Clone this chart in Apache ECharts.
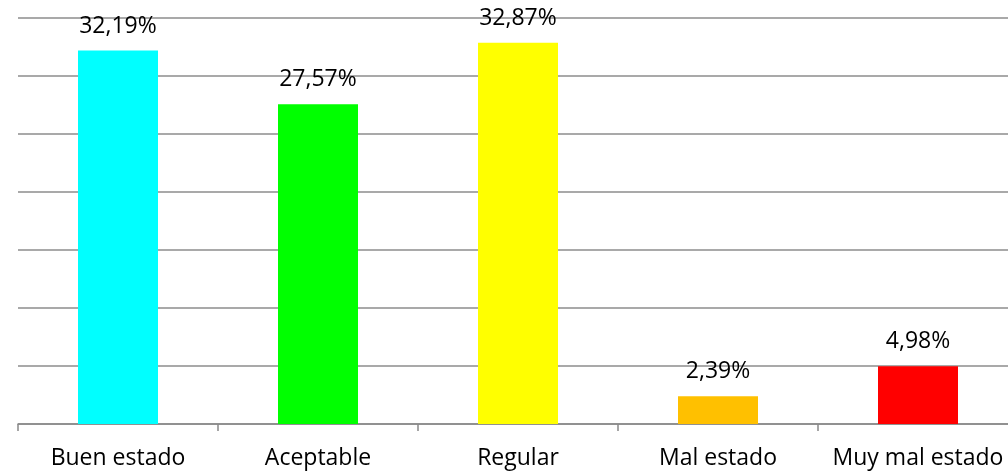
<!DOCTYPE html>
<html><head><meta charset="utf-8">
<script src="https://cdn.jsdelivr.net/npm/echarts@6/dist/echarts.min.js"></script>
<style>html,body{margin:0;padding:0;background:#fff}#c{width:1008px;height:473px}</style>
</head><body><div id="c"></div>
<script>
const categories = ['Buen estado', 'Aceptable', 'Regular', 'Mal estado', 'Muy mal estado'];
const values = [32.19, 27.57, 32.87, 2.39, 4.98];
const colors = ['#00FFFF', '#00FF00', '#FFFF00', '#FFC000', '#FF0000'];
const chart = echarts.init(document.getElementById('c'), null, {renderer: 'canvas'});
const FONT = 'Open Sans';
chart.setOption({
  animation: false,
  grid: {left: 18, right: -10, top: 18, bottom: 49, containLabel: false, outerBoundsMode: 'none'},
  xAxis: {
    type: 'category', data: categories,
    axisLine: {lineStyle: {color: '#898989', width: 1.5}},
    axisTick: {show: true, interval: 0, length: 7, lineStyle: {color: '#898989', width: 1.5}},
    axisLabel: {interval: 0, hideOverlap: false, color: '#000', fontSize: 23, fontFamily: FONT, margin: 23}
  },
  yAxis: {
    type: 'value', min: 0, max: 35, interval: 5,
    axisLabel: {show: false}, axisLine: {show: false}, axisTick: {show: false},
    splitLine: {lineStyle: {color: '#8c8c8c', width: 1.5}}
  },
  series: [{
    type: 'bar', barWidth: 80,
    data: values.map((v, i) => ({value: v, itemStyle: {color: colors[i]}})),
    label: {show: true, position: 'top', distance: 13, color: '#000', fontSize: 23, fontFamily: FONT,
      formatter: p => p.value.toFixed(2).replace('.', ',') + '%'}
  }]
});
</script></body></html>
